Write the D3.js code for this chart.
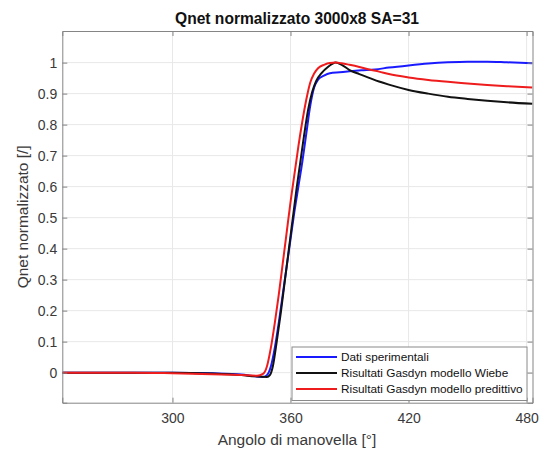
<!DOCTYPE html>
<html><head><meta charset="utf-8">
<script src="https://cdn.jsdelivr.net/npm/d3@7"></script>
<style>body{margin:0;background:#fff}svg{display:block}text{font-family:"Liberation Sans",Arial,sans-serif}</style>
</head><body><svg id="c" width="547" height="454"></svg>
<script>
const titleText = "Qnet normalizzato 3000x8 SA=31";
const xLabel = "Angolo di manovella [°]";
const yLabel = "Qnet normalizzato [/]";
const xTicks = [300, 360, 420, 480];
const yTicks = [0, 0.1, 0.2, 0.3, 0.4, 0.5, 0.6, 0.7, 0.8, 0.9, 1];
const seriesNames = ["Dati sperimentali", "Risultati Gasdyn modello Wiebe", "Risultati Gasdyn modello predittivo"];
const seriesColors = ["#1a1aff", "#111111", "#ee1c1c"];

const blueX = [244,300,320,335,342,346,348,350,352,354,356,358,360,362,364,366,368,370,372,374,377,380,385,390,396,403,410,420,430,440,450,460,470,483];
const blueY = [0,0,-0.002,-0.006,-0.012,-0.014,-0.008,0.02,0.08,0.16,0.25,0.34,0.43,0.52,0.6,0.68,0.77,0.86,0.92,0.945,0.958,0.966,0.969,0.972,0.975,0.978,0.984,0.991,0.997,1.001,1.003,1.003,1.001,0.998];

const blackX = [244,300,320,335,342,348,349.5,351,353,355,357,359,361,363,365,367,369,371,373,376,379,381,383,386,390,395,400,405,410,420,430,440,450,460,470,483];
const blackY = [0,0,-0.003,-0.008,-0.012,-0.014,-0.008,0.02,0.1,0.19,0.29,0.39,0.49,0.59,0.68,0.77,0.85,0.905,0.94,0.968,0.986,0.995,1.0,0.993,0.976,0.963,0.951,0.939,0.929,0.912,0.9,0.89,0.883,0.877,0.872,0.867];

const redX = [244,280,300,320,335,343,346,348,350,352,354,356,358,360,362,364,366,368,370,372,374,377,380,383,386,390,395,400,405,410,420,430,440,450,460,470,483];
const redY = [0,0,-0.002,-0.005,-0.008,-0.01,-0.004,0.02,0.08,0.16,0.25,0.35,0.45,0.55,0.64,0.73,0.81,0.88,0.935,0.965,0.982,0.993,0.999,1.0,0.998,0.993,0.986,0.978,0.971,0.963,0.952,0.944,0.938,0.933,0.928,0.924,0.92];

const svg = d3.select("#c");
const L = 62.3, R = 532.5, T = 31, B = 402.7;
const x = d3.scaleLinear().domain([244, 483]).range([L, R]);
const y = d3.scaleLinear().domain([-0.097, 1.102]).range([B, T]);
const axisCol = "#3a3a3a";
const FONT = '"Liberation Sans",Arial,sans-serif';

// grid
const g = svg.append("g");
g.selectAll(".gx").data(xTicks).enter().append("line")
  .attr("x1", d => x(d)).attr("x2", d => x(d)).attr("y1", T).attr("y2", B)
  .attr("stroke", "#e8e8e8").attr("stroke-width", 1);
g.selectAll(".gy").data(yTicks).enter().append("line")
  .attr("x1", L).attr("x2", R).attr("y1", d => y(d)).attr("y2", d => y(d))
  .attr("stroke", "#e8e8e8").attr("stroke-width", 1);

// curves
const line = d3.line().x(d => x(d[0])).y(d => y(d[1])).curve(d3.curveMonotoneX);
const data = [
  d3.zip(blueX, blueY),
  d3.zip(blackX, blackY),
  d3.zip(redX, redY)
];
svg.append("clipPath").attr("id", "clp").append("rect")
  .attr("x", L).attr("y", T).attr("width", R - L).attr("height", B - T);
[0, 1, 2].forEach(i => {
  svg.append("path").datum(data[i]).attr("d", line)
    .attr("fill", "none").attr("stroke", seriesColors[i]).attr("stroke-width", 2)
    .attr("clip-path", "url(#clp)");
});

// axes
const xAxis = d3.axisBottom(x).tickValues(xTicks).tickSize(-5).tickPadding(10).tickFormat(d3.format("d"));
const yAxis = d3.axisLeft(y).tickValues(yTicks).tickSize(-5).tickPadding(5).tickFormat(d => d === 0 ? "0" : d === 1 ? "1" : d3.format(".1f")(d));
const xa = svg.append("g").attr("transform", `translate(0,${B})`).call(xAxis);
const ya = svg.append("g").attr("transform", `translate(${L},0)`).call(yAxis);
const xTop = svg.append("g").attr("transform", `translate(0,${T})`).call(d3.axisTop(x).tickValues(xTicks).tickSize(-5).tickFormat(""));
const yRight = svg.append("g").attr("transform", `translate(${R},0)`).call(d3.axisRight(y).tickValues(yTicks).tickSize(-5).tickFormat(""));
[xa, ya, xTop, yRight].forEach(a => {
  a.select(".domain").attr("stroke", "#858585").attr("stroke-width", 1);
  a.selectAll(".tick line").attr("stroke", "#858585");
  a.selectAll("text").attr("fill", axisCol).attr("font-size", 14).attr("font-family", FONT);
});
ya.selectAll("text").attr("dy", "0.35em");

// title and labels
svg.append("text").attr("x", 297).attr("y", 24).attr("text-anchor", "middle")
  .attr("font-size", 15.6).attr("font-weight", "bold").attr("fill", "#111").text(titleText);
svg.append("text").attr("x", 297).attr("y", 445).attr("text-anchor", "middle")
  .attr("font-size", 15.5).attr("fill", axisCol).text(xLabel);
svg.append("text").attr("transform", `translate(28,${(T + B) / 2}) rotate(-90)`).attr("text-anchor", "middle")
  .attr("font-size", 15.5).attr("fill", axisCol).text(yLabel);

// legend
const lg = svg.append("g");
lg.append("rect").attr("x", 292).attr("y", 347).attr("width", 235).attr("height", 53.5)
  .attr("fill", "#fff").attr("stroke", "#8a8a8a").attr("stroke-width", 1);
const rowY = [357, 373, 389];
seriesNames.forEach((n, i) => {
  lg.append("line").attr("x1", 296).attr("x2", 337).attr("y1", rowY[i]).attr("y2", rowY[i])
    .attr("stroke", seriesColors[i]).attr("stroke-width", 2);
  lg.append("text").attr("x", 341).attr("y", rowY[i]).attr("dy", "0.35em")
    .attr("font-size", 11.8).attr("fill", "#111").text(n);
});
</script></body></html>
